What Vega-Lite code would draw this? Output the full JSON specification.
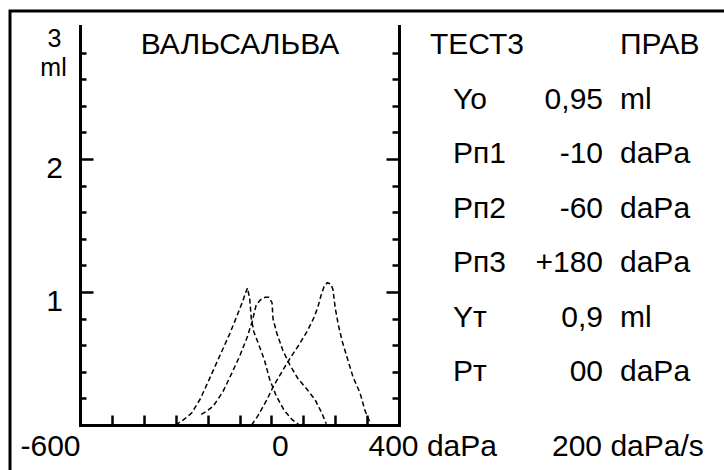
{
  "$schema": "https://vega.github.io/schema/vega-lite/v6.json",
  "autosize": {"type": "none"},
  "padding": {"left": 10, "top": 11, "right": -3, "bottom": -3},
  "width": 717,
  "height": 462,
  "background": "white",
  "config": {
    "view": {"stroke": "black", "strokeWidth": 3},
    "font": "Liberation Sans",
    "axis": {
      "domainColor": "black", "domainWidth": 3, "domainCap": "square",
      "tickColor": "black", "tickWidth": 2.5,
      "labelColor": "black", "labelFont": "Liberation Sans", "labelFontSize": 30,
      "grid": false, "title": null, "labelOverlap": false, "labelFlush": false, "labelBound": false
    }
  },
  "datasets": {
    "curves": [
      {"curve": "Рп2", "p": -300, "v": 0.0}, {"curve": "Рп2", "p": -275, "v": 0.04}, {"curve": "Рп2", "p": -250, "v": 0.09},
      {"curve": "Рп2", "p": -222, "v": 0.2}, {"curve": "Рп2", "p": -190, "v": 0.37}, {"curve": "Рп2", "p": -158, "v": 0.54},
      {"curve": "Рп2", "p": -130, "v": 0.69}, {"curve": "Рп2", "p": -108, "v": 0.82}, {"curve": "Рп2", "p": -90, "v": 0.93},
      {"curve": "Рп2", "p": -80, "v": 1.0}, {"curve": "Рп2", "p": -75, "v": 1.03}, {"curve": "Рп2", "p": -68, "v": 0.95},
      {"curve": "Рп2", "p": -63, "v": 0.8}, {"curve": "Рп2", "p": -55, "v": 0.7}, {"curve": "Рп2", "p": -42, "v": 0.62},
      {"curve": "Рп2", "p": -22, "v": 0.49}, {"curve": "Рп2", "p": -5, "v": 0.34}, {"curve": "Рп2", "p": 15, "v": 0.22},
      {"curve": "Рп2", "p": 40, "v": 0.11}, {"curve": "Рп2", "p": 65, "v": 0.04}, {"curve": "Рп2", "p": 88, "v": 0.0},

      {"curve": "Рп1", "p": -220, "v": 0.08}, {"curve": "Рп1", "p": -205, "v": 0.1}, {"curve": "Рп1", "p": -183, "v": 0.14},
      {"curve": "Рп1", "p": -152, "v": 0.25}, {"curve": "Рп1", "p": -124, "v": 0.39}, {"curve": "Рп1", "p": -99, "v": 0.52},
      {"curve": "Рп1", "p": -76, "v": 0.66}, {"curve": "Рп1", "p": -60, "v": 0.78}, {"curve": "Рп1", "p": -48, "v": 0.9},
      {"curve": "Рп1", "p": -35, "v": 0.94}, {"curve": "Рп1", "p": -20, "v": 0.96}, {"curve": "Рп1", "p": -8, "v": 0.96},
      {"curve": "Рп1", "p": 2, "v": 0.92}, {"curve": "Рп1", "p": 5, "v": 0.8}, {"curve": "Рп1", "p": 17, "v": 0.69},
      {"curve": "Рп1", "p": 36, "v": 0.56}, {"curve": "Рп1", "p": 58, "v": 0.45}, {"curve": "Рп1", "p": 83, "v": 0.35},
      {"curve": "Рп1", "p": 111, "v": 0.27}, {"curve": "Рп1", "p": 137, "v": 0.19}, {"curve": "Рп1", "p": 158, "v": 0.09},
      {"curve": "Рп1", "p": 172, "v": 0.01},

      {"curve": "Рп3", "p": -62, "v": 0.0}, {"curve": "Рп3", "p": -42, "v": 0.07}, {"curve": "Рп3", "p": -14, "v": 0.19},
      {"curve": "Рп3", "p": 6, "v": 0.29}, {"curve": "Рп3", "p": 33, "v": 0.4}, {"curve": "Рп3", "p": 58, "v": 0.5},
      {"curve": "Рп3", "p": 83, "v": 0.59}, {"curve": "Рп3", "p": 111, "v": 0.7}, {"curve": "Рп3", "p": 130, "v": 0.79},
      {"curve": "Рп3", "p": 145, "v": 0.88}, {"curve": "Рп3", "p": 155, "v": 0.97}, {"curve": "Рп3", "p": 165, "v": 1.04},
      {"curve": "Рп3", "p": 175, "v": 1.07}, {"curve": "Рп3", "p": 186, "v": 1.06}, {"curve": "Рп3", "p": 193, "v": 1.02},
      {"curve": "Рп3", "p": 200, "v": 0.88}, {"curve": "Рп3", "p": 210, "v": 0.75}, {"curve": "Рп3", "p": 222, "v": 0.63},
      {"curve": "Рп3", "p": 237, "v": 0.51}, {"curve": "Рп3", "p": 256, "v": 0.36}, {"curve": "Рп3", "p": 278, "v": 0.24},
      {"curve": "Рп3", "p": 293, "v": 0.11}, {"curve": "Рп3", "p": 309, "v": 0.02}
    ],
    "table": [
      {"r": 0, "c": 0, "t": "ВАЛЬСАЛЬВА"}, {"r": 0, "c": 1, "t": "ТЕСТ3"}, {"r": 0, "c": 5, "t": "ПРАВ"},
      {"r": 1, "c": 2, "t": "Yo"}, {"r": 1, "c": 4, "t": "0,95"}, {"r": 1, "c": 5, "t": "ml"},
      {"r": 2, "c": 2, "t": "Рп1"}, {"r": 2, "c": 4, "t": "-10"}, {"r": 2, "c": 5, "t": "daPa"},
      {"r": 3, "c": 2, "t": "Рп2"}, {"r": 3, "c": 4, "t": "-60"}, {"r": 3, "c": 5, "t": "daPa"},
      {"r": 4, "c": 2, "t": "Рп3"}, {"r": 4, "c": 4, "t": "+180"}, {"r": 4, "c": 5, "t": "daPa"},
      {"r": 5, "c": 2, "t": "Yт"}, {"r": 5, "c": 4, "t": "0,9"}, {"r": 5, "c": 5, "t": "ml"},
      {"r": 6, "c": 2, "t": "Рт"}, {"r": 6, "c": 4, "t": "00"}, {"r": 6, "c": 5, "t": "daPa"},
      {"r": 7, "c": 3, "t": "200 daPa/s"}
    ]
  },
  "layer": [
    {
      "data": {"name": "curves"},
      "transform": [{"filter": "datum.curve != 'Рп3'"}],
      "mark": {"type": "line", "color": "black", "strokeWidth": 1.5, "strokeDash": [5, 3]},
      "encoding": {
        "x": {
          "field": "p", "type": "quantitative",
          "scale": {"domain": [-600, 400], "range": [70, 389], "nice": false, "zero": false},
          "axis": {
            "orient": "bottom", "offset": -48,
            "values": [-600, -500, -400, -300, -200, -100, 0, 100, 200, 300, 400],
            "tickSize": -10, "labelPadding": 16, "labelBaseline": "top",
            "labelExpr": "datum.value == -600 ? '-600' : datum.value == 0 ? '0' : datum.value == 400 ? '400 daPa' : ''",
            "labelAlign": {"condition": {"test": "datum.value == -600", "value": "right"}, "value": "left"},
            "labelOffset": {"condition": {"test": "datum.value == 400", "value": -31}, "value": 0}
          }
        },
        "y": {
          "field": "v", "type": "quantitative",
          "scale": {"domain": [0, 3], "range": [414, 15], "nice": false, "zero": false},
          "axis": {
            "orient": "left", "offset": -70,
            "values": [0.2, 0.4, 0.6, 0.8, 1, 1.2, 1.4, 1.6, 1.8, 2, 2.2, 2.4, 2.6, 2.8, 3],
            "tickSize": {"condition": {"test": "datum.value == 1 || datum.value == 2 || datum.value == 3", "value": -13}, "value": -6},
            "tickOpacity": {"condition": {"test": "datum.value == 3", "value": 0}, "value": 1},
            "labelExpr": "datum.value == 3 ? '3' : datum.value == 2.8 ? 'ml' : datum.value == 2 ? '2' : datum.value == 1 ? '1' : ''",
            "labelAlign": "center", "labelBaseline": "top",
            "labelFontSize": {"condition": {"test": "datum.value >= 2.8", "value": 25}, "value": 30},
            "labelPadding": {"condition": {"test": "datum.value == 2.8", "value": 33}, "value": 39},
            "labelOffset": {"expr": "datum.value == 3 ? 0 : datum.value == 2.8 ? 3 : -6"}
          }
        },
        "detail": {"field": "curve"}
      }
    },
    {
      "data": {"name": "curves"},
      "transform": [{"filter": "datum.curve == 'Рп3'"}],
      "mark": {"type": "line", "color": "black", "strokeWidth": 1.5, "strokeDash": [5, 3]},
      "encoding": {
        "x": {
          "field": "p", "type": "quantitative",
          "scale": {"domain": [-600, 400], "range": [70, 389], "nice": false, "zero": false},
          "axis": null
        },
        "y": {
          "field": "v", "type": "quantitative",
          "scale": {"domain": [0, 3], "range": [414, 15], "nice": false, "zero": false},
          "axis": {
            "orient": "right", "offset": -328,
            "values": [0.2, 0.4, 0.6, 0.8, 1, 1.2, 1.4, 1.6, 1.8, 2, 2.2, 2.4, 2.6, 2.8],
            "tickSize": {"condition": {"test": "datum.value == 1 || datum.value == 2", "value": -13}, "value": -7},
            "labels": false
          }
        }
      }
    },
    {
      "data": {"name": "table"},
      "transform": [{"filter": "datum.c == 0"}],
      "mark": {"type": "text", "align": "center", "baseline": "middle", "font": "Liberation Sans", "fontSize": 30, "color": "black"},
      "encoding": {
        "x": {"field": "c", "type": "quantitative", "scale": {"domain": [0, 1, 2, 3, 4, 5], "range": [230, 420, 443, 542, 593, 610], "nice": false, "zero": false}, "axis": null},
        "y": {"field": "r", "type": "quantitative", "scale": {"domain": [0, 6, 7], "range": [34, 361, 436], "nice": false, "zero": false}, "axis": null},
        "text": {"field": "t"}
      }
    },
    {
      "data": {"name": "table"},
      "transform": [{"filter": "datum.c == 4"}],
      "mark": {"type": "text", "align": "right", "baseline": "middle", "font": "Liberation Sans", "fontSize": 30, "color": "black"},
      "encoding": {
        "x": {"field": "c", "type": "quantitative", "scale": {"domain": [0, 1, 2, 3, 4, 5], "range": [230, 420, 443, 542, 593, 610], "nice": false, "zero": false}, "axis": null},
        "y": {"field": "r", "type": "quantitative", "scale": {"domain": [0, 6, 7], "range": [34, 361, 436], "nice": false, "zero": false}, "axis": null},
        "text": {"field": "t"}
      }
    },
    {
      "data": {"name": "table"},
      "transform": [{"filter": "datum.c != 0 && datum.c != 4"}],
      "mark": {"type": "text", "align": "left", "baseline": "middle", "font": "Liberation Sans", "fontSize": 30, "color": "black"},
      "encoding": {
        "x": {"field": "c", "type": "quantitative", "scale": {"domain": [0, 1, 2, 3, 4, 5], "range": [230, 420, 443, 542, 593, 610], "nice": false, "zero": false}, "axis": null},
        "y": {"field": "r", "type": "quantitative", "scale": {"domain": [0, 6, 7], "range": [34, 361, 436], "nice": false, "zero": false}, "axis": null},
        "text": {"field": "t"}
      }
    }
  ],
  "resolve": {"scale": {"x": "independent", "y": "independent"}}
}
